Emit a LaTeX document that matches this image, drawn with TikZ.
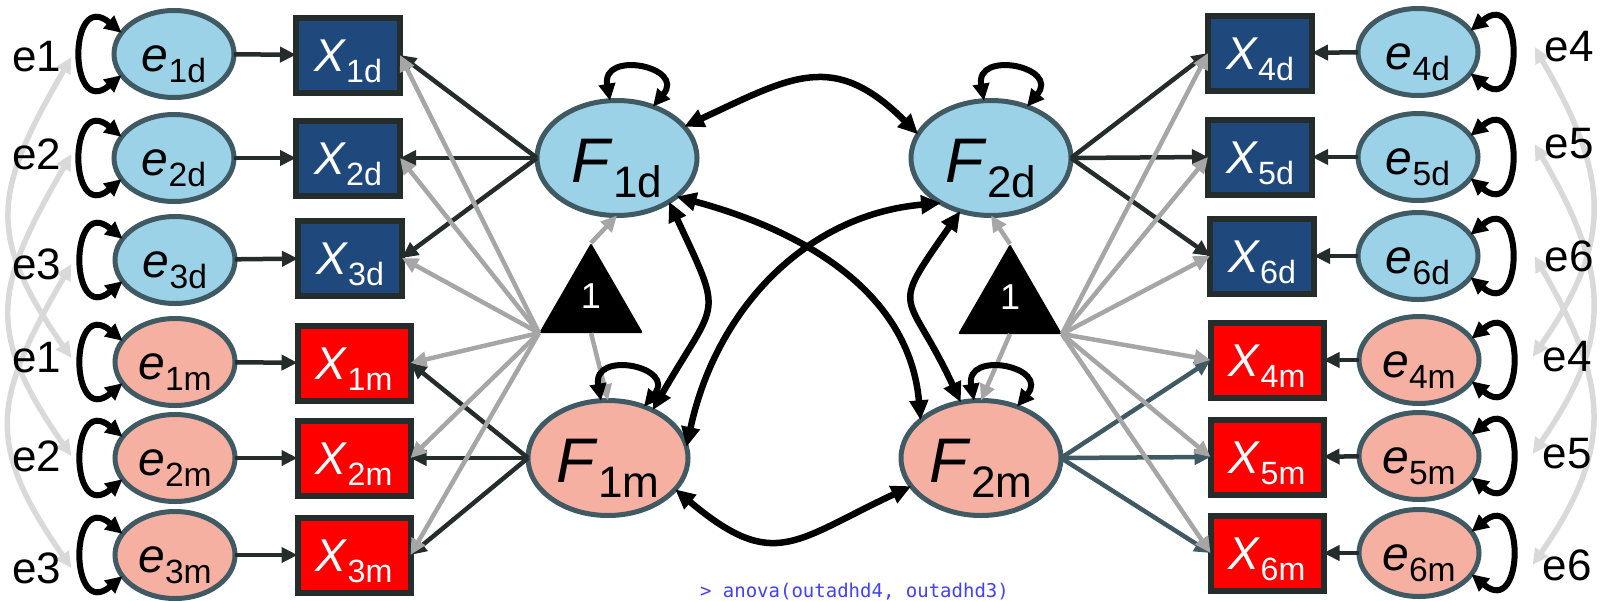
\documentclass[tikz,border=0pt]{standalone}
\usepackage{fontspec}
\setmainfont{Liberation Sans}
\setmonofont{DejaVu Sans Mono}
\usepackage{graphicx}
\usetikzlibrary{arrows.meta,shapes.geometric,backgrounds}

\definecolor{errblue}{RGB}{155,210,232}
\definecolor{errpink}{RGB}{245,176,162}
\definecolor{rim}{RGB}{64,90,100}
\definecolor{boxblue}{RGB}{31,73,125}
\definecolor{boxred}{RGB}{255,0,0}
\definecolor{ink}{RGB}{36,44,44}
\definecolor{meangray}{RGB}{166,166,166}
\definecolor{corrgray}{RGB}{217,217,217}
\definecolor{cmdblue}{RGB}{64,64,255}

\newcommand{\vlab}[2]{\textit{#1}\raisebox{-.24em}{\scalebox{.7}{#2}}}

\begin{document}
\begin{tikzpicture}[
  x=1pt, y=1pt,
  every node/.style={inner sep=0pt, outer sep=0pt},
  elab/.style={inner sep=10pt, font=\fontsize{44}{48}\selectfont},
  err/.style={ellipse, draw=rim, line width=5pt, minimum width=120pt, minimum height=87pt,
    font=\fontsize{48}{52}\selectfont, text height=46pt, text depth=12pt},
  errd/.style={err, fill=errblue},
  errm/.style={err, fill=errpink},
  obs/.style={rectangle, draw=ink, line width=6pt, minimum width=104pt, minimum height=75pt,
    text=white, font=\fontsize{46}{50}\selectfont, text height=44pt, text depth=12pt},
  obsd/.style={obs, fill=boxblue},
  obsm/.style={obs, fill=boxred, minimum width=113pt},
  lat/.style={ellipse, draw=rim, line width=5pt, minimum width=160pt, minimum height=115pt,
    font=\fontsize{63}{66}\selectfont, text height=64pt, text depth=15pt},
  meantri/.style={regular polygon, regular polygon sides=3, fill=black, rounded corners=2pt,
    minimum size=120pt, text=white, font=\fontsize{36}{38}\selectfont, text height=26pt, text depth=16pt},
  cmdtext/.style={font=\ttfamily\fontsize{19}{21}\selectfont, text=cmdblue},
  resid/.style={draw=ink, line width=4.5pt, -{Triangle[length=16pt,width=15pt]}},
  load/.style={draw=ink, line width=4.5pt, -{Triangle[length=16pt,width=15pt]}},
  meanline/.style={draw=meangray, line width=4.5pt, -{Triangle[length=16pt,width=15pt]}},
  cov/.style={draw=black, line width=6.5pt, {Triangle[length=20pt,width=18pt]}-{Triangle[length=20pt,width=18pt]}},
  var/.style={draw=black, line width=6pt, {Triangle[length=17pt,width=16pt]}-{Triangle[length=17pt,width=16pt]}},
  ecov/.style={draw=corrgray, line width=5.5pt, {Triangle[length=16pt,width=15pt]}-{Triangle[length=16pt,width=15pt]}}
]
  \useasboundingbox (0,0) rectangle (1604,-600);

  % left block
  \node[elab] (lab1d) at (37,-57) {e1};
  \node[elab] (lab2d) at (37,-154) {e2};
  \node[elab] (lab3d) at (37,-264) {e3};
  \node[elab] (lab1m) at (37,-358) {e1};
  \node[elab] (lab2m) at (37,-456) {e2};
  \node[elab] (lab3m) at (37,-568) {e3};

  \node[errd] (e1d) at (174,-54) {\vlab{e}{1d}};
  \node[errd] (e2d) at (174,-158) {\vlab{e}{2d}};
  \node[errd] (e3d) at (175,-260) {\vlab{e}{3d}};
  \node[errm] (e1m) at (175,-362) {\vlab{e}{1m}};
  \node[errm] (e2m) at (175,-458) {\vlab{e}{2m}};
  \node[errm] (e3m) at (175,-555) {\vlab{e}{3m}};

  \node[obsd] (X1d) at (348,-55) {\vlab{X}{1d}};
  \node[obsd] (X2d) at (348,-158) {\vlab{X}{2d}};
  \node[obsd] (X3d) at (350,-258) {\vlab{X}{3d}};
  \node[obsm] (X1m) at (354,-363) {\vlab{X}{1m}};
  \node[obsm] (X2m) at (354,-458) {\vlab{X}{2m}};
  \node[obsm] (X3m) at (354,-555) {\vlab{X}{3m}};

  % latent factors and means
  \node[lat,fill=errblue] (F1d) at (617,-158) {\vlab{F}{1d}};
  \node[lat,fill=errpink] (F1m) at (608,-458) {\vlab{F}{1m}};
  \node[lat,fill=errblue] (F2d) at (991,-158) {\vlab{F}{2d}};
  \node[lat,fill=errpink] (F2m) at (981,-458) {\vlab{F}{2m}};
  \node[meantri] (one1) at (591,-303) {1};
  \node[meantri] (one2) at (1010,-304) {1};

  % right block
  \node[obsd] (X4d) at (1260,-53) {\vlab{X}{4d}};
  \node[obsd] (X5d) at (1260,-157) {\vlab{X}{5d}};
  \node[obsd] (X6d) at (1262,-256) {\vlab{X}{6d}};
  \node[obsm] (X4m) at (1267,-360) {\vlab{X}{4m}};
  \node[obsm] (X5m) at (1267,-457) {\vlab{X}{5m}};
  \node[obsm] (X6m) at (1267,-553) {\vlab{X}{6m}};

  \node[errd] (e4d) at (1418,-52) {\vlab{e}{4d}};
  \node[errd] (e5d) at (1418,-157) {\vlab{e}{5d}};
  \node[errd] (e6d) at (1418,-256) {\vlab{e}{6d}};
  \node[errm] (e4m) at (1419,-360) {\vlab{e}{4m}};
  \node[errm] (e5m) at (1419,-456) {\vlab{e}{5m}};
  \node[errm] (e6m) at (1419,-553) {\vlab{e}{6m}};

  \node[elab] (lab4d) at (1569,-47) {e4};
  \node[elab] (lab5d) at (1569,-144) {e5};
  \node[elab] (lab6d) at (1569,-256) {e6};
  \node[elab] (lab4m) at (1567,-357) {e4};
  \node[elab] (lab5m) at (1567,-454) {e5};
  \node[elab] (lab6m) at (1567,-565) {e6};

  \node[cmdtext,anchor=base west] (cmd) at (700,-597) {> anova(outadhd4, outadhd3)};

  % residual correlations
  \begin{scope}[on background layer]
    \draw[ecov] (lab1d.east) to[out=240,in=125,looseness=1.3] (lab1m.east);
    \draw[ecov] (lab2d.east) to[out=240,in=125,looseness=1.3] (lab2m.east);
    \draw[ecov] (lab3d.east) to[out=240,in=125,looseness=1.3] (lab3m.east);
    \draw[ecov] (lab4d.west) to[out=-60,in=55,looseness=1.2] (lab4m.west);
    \draw[ecov] (lab5d.west) to[out=-60,in=55,looseness=1.2] (lab5m.west);
    \draw[ecov] (lab6d.west) to[out=-60,in=55,looseness=1.2] (lab6m.west);
  \end{scope}

  % residuals
  \draw[resid] (e1d) -- (X1d);
  \draw[resid] (e2d) -- (X2d);
  \draw[resid] (e3d) -- (X3d);
  \draw[resid] (e1m) -- (X1m);
  \draw[resid] (e2m) -- (X2m);
  \draw[resid] (e3m) -- (X3m);
  \draw[resid] (e4d) -- (X4d);
  \draw[resid] (e5d) -- (X5d);
  \draw[resid] (e6d) -- (X6d);
  \draw[resid] (e4m) -- (X4m);
  \draw[resid] (e5m) -- (X5m);
  \draw[resid] (e6m) -- (X6m);

  % loadings
  \draw[load] (F1d.west) -- (X1d.east);
  \draw[load] (F1d.west) -- (X2d.east);
  \draw[load] (F1d.west) -- (X3d.east);
  \draw[load] (F1m.west) -- (X1m.east);
  \draw[load] (F1m.west) -- (X2m.east);
  \draw[load] (F1m.west) -- (X3m.east);
  \draw[load] (F2d.east) -- (X4d.west);
  \draw[load] (F2d.east) -- (X5d.west);
  \draw[load] (F2d.east) -- (X6d.west);
  \draw[load,draw=rim] (F2m.east) -- (X4m.west);
  \draw[load,draw=rim] (F2m.east) -- (X5m.west);
  \draw[load,draw=rim] (F2m.east) -- (X6m.west);

  % intercepts
  \draw[meanline] (one1.corner 2) -- (X1d.east);
  \draw[meanline] (one1.corner 2) -- (X2d.east);
  \draw[meanline] (one1.corner 2) -- (X3d.east);
  \draw[meanline] (one1.corner 2) -- (X1m.east);
  \draw[meanline] (one1.corner 2) -- (X2m.east);
  \draw[meanline] (one1.corner 2) -- (X3m.east);
  \draw[meanline] (one1.corner 1) -- (F1d.south);
  \draw[meanline] (one1.south) -- (F1m.north);
  \draw[meanline] (one2.corner 3) -- (X4d.west);
  \draw[meanline] (one2.corner 3) -- (X5d.west);
  \draw[meanline] (one2.corner 3) -- (X6d.west);
  \draw[meanline] (one2.corner 3) -- (X4m.west);
  \draw[meanline] (one2.corner 3) -- (X5m.west);
  \draw[meanline] (one2.corner 3) -- (X6m.west);
  \draw[meanline] (one2.corner 1) -- (F2d.south);
  \draw[meanline] (one2.south) -- (F2m.north);

  % variances
  \draw[var] (e1d.158) .. controls +(140:70) and +(220:70) .. (e1d.202);
  \draw[var] (e2d.158) .. controls +(140:70) and +(220:70) .. (e2d.202);
  \draw[var] (e3d.158) .. controls +(140:70) and +(220:70) .. (e3d.202);
  \draw[var] (e1m.158) .. controls +(140:70) and +(220:70) .. (e1m.202);
  \draw[var] (e2m.158) .. controls +(140:70) and +(220:70) .. (e2m.202);
  \draw[var] (e3m.158) .. controls +(140:70) and +(220:70) .. (e3m.202);
  \draw[var] (e4d.22) .. controls +(40:70) and +(-40:70) .. (e4d.-22);
  \draw[var] (e5d.22) .. controls +(40:70) and +(-40:70) .. (e5d.-22);
  \draw[var] (e6d.22) .. controls +(40:70) and +(-40:70) .. (e6d.-22);
  \draw[var] (e4m.22) .. controls +(40:70) and +(-40:70) .. (e4m.-22);
  \draw[var] (e5m.22) .. controls +(40:70) and +(-40:70) .. (e5m.-22);
  \draw[var] (e6m.22) .. controls +(40:70) and +(-40:70) .. (e6m.-22);
  \draw[var] (F1d.97) .. controls +(100:52) and +(50:52) .. (F1d.55);
  \draw[var] (F1m.97) .. controls +(100:52) and +(50:52) .. (F1m.55);
  \draw[var] (F2d.97) .. controls +(100:52) and +(50:52) .. (F2d.55);
  \draw[var] (F2m.97) .. controls +(100:52) and +(50:52) .. (F2m.55);

  % factor covariances
  \draw[cov] (F1d.25) to[out=25,in=135,looseness=1.3] (F2d.162);
  \draw[cov] (F1d.-40) to[out=-65,in=60,looseness=1.6] (F1m.47);
  \draw[cov] (F2d.240) to[out=235,in=115,looseness=1.7] (F2m.110);
  \draw[cov] (F1d.-33) to[out=-15,in=95] (F2m.148);
  \draw[cov] (F1m.8) to[out=78,in=185] (F2d.222);
  \draw[cov] (F1m.-25) to[out=-40,in=205,looseness=1.4] (F2m.202);
\end{tikzpicture}
\end{document}
